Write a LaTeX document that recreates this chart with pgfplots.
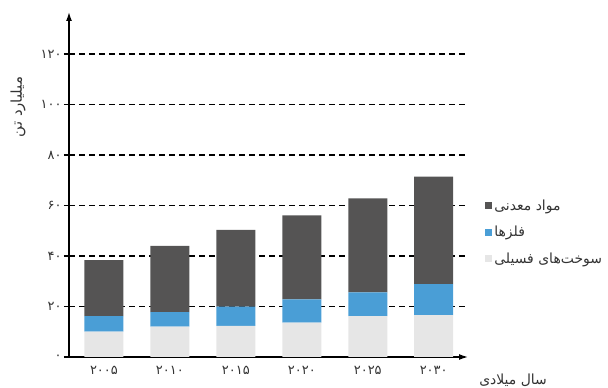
\documentclass[border=0pt]{standalone}
\usepackage{pgfplots}
\pgfplotsset{compat=1.18}
\usepackage{fontspec}
\usetikzlibrary{arrows.meta}
\TeXXeTstate=1
\newfontfamily\arabicfont[Script=Arabic]{DejaVu Sans}
\definecolor{mineral}{HTML}{555454}
\definecolor{metal}{HTML}{4A9ED6}
\definecolor{fossil}{HTML}{E6E6E6}
\definecolor{txt}{HTML}{333333}
\begin{document}
\begin{tikzpicture}
\path[use as bounding box] (0,0) rectangle (608bp,388bp);
\begin{axis}[
  at={(69bp,31bp)}, anchor=south west,
  scale only axis, width=399bp, height=345bp,
  xmin=-0.53, xmax=5.52, ymin=0, ymax=136.6,
  ybar stacked, bar width=39bp,
  axis lines=left,
  axis line style={line width=1.4bp, -{Latex[length=9bp,width=6bp]}},
  xtick={0,1,2,3,4,5},
  xticklabels={۲۰۰۵,۲۰۱۰,۲۰۱۵,۲۰۲۰,۲۰۲۵,۲۰۳۰},
  x tick style={draw=none},
  ytick={0,20,40,60,80,100,120},
  yticklabels={۰,۲۰,۴۰,۶۰,۸۰,۱۰۰,۱۲۰},
  y tick style={black, line width=1.4bp},
  tick align=outside, major tick length=5bp,
  ymajorgrids,
  grid style={black, line width=1.8bp, dash pattern=on 6bp off 4bp},
  ticklabel style={font=\arabicfont\fontsize{13}{14}\selectfont, text=txt},
  xticklabel style={yshift=-1bp},
  yticklabel style={xshift=1bp},
  xlabel={\arabicfont\beginR سال میلادی\endR},
  ylabel={\arabicfont\beginR میلیارد تن\endR},
  every axis x label/.style={at={(rel axis cs:1.113,-0.067)}, anchor=center, font=\fontsize{14}{16}\selectfont, text=txt},
  every axis y label/.style={at={(rel axis cs:-0.128,0.725)}, anchor=center, rotate=90, font=\fontsize{15}{17}\selectfont, text=txt},
  every axis plot post/.append style={legend image code/.code={\fill[##1] (0bp,-3.5bp) rectangle (7bp,3.5bp);}},
  reverse legend,
  legend cell align=left,
  legend style={draw=none, fill=none, at={(1.043,0.362)}, anchor=west,
    font=\arabicfont\fontsize{14}{16}\selectfont, text=txt, row sep=10.5bp, inner sep=0pt,
    /tikz/every odd column/.append style={column sep=0bp}},
]
\addplot[fill=fossil, draw=none] coordinates {(0,10.0) (1,12.0) (2,12.3) (3,13.6) (4,16.2) (5,16.6)};
\addlegendentry{\beginR سوخت‌های فسیلی\endR}
\addplot[fill=metal, draw=none] coordinates {(0,6.2) (1,5.8) (2,7.6) (3,9.2) (4,9.4) (5,12.3)};
\addlegendentry{\beginR فلزها\endR}
\addplot[fill=mineral, draw=none] coordinates {(0,22.2) (1,26.2) (2,30.4) (3,33.3) (4,37.2) (5,42.5)};
\addlegendentry{\beginR مواد معدنی\endR}
\end{axis}
\end{tikzpicture}
\end{document}
